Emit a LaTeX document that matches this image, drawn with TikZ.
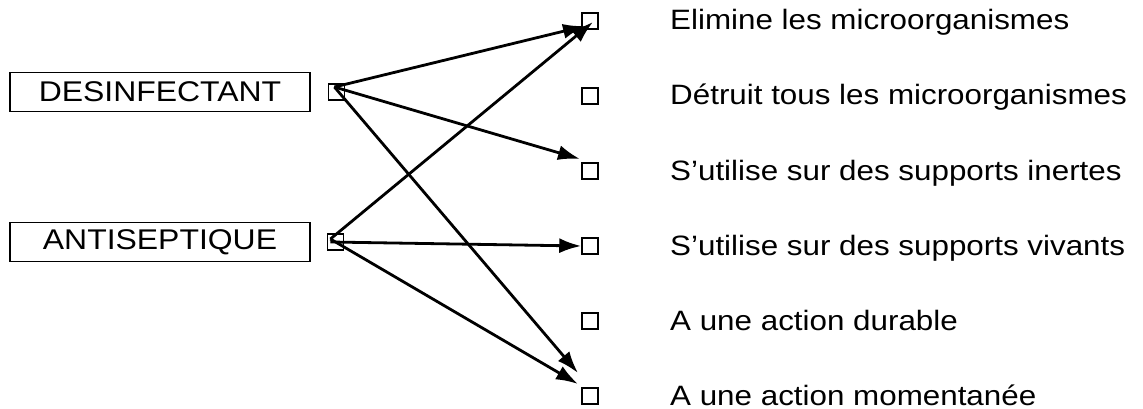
\documentclass[tikz,border=0pt]{standalone}
\usepackage{fontspec}
\setmainfont[FakeStretch=1.12]{Liberation Sans}
\usetikzlibrary{arrows.meta, positioning}
\tikzset{
    % node styles
    term/.style = {draw, line width=1.3pt, minimum width=300pt, minimum height=39pt, inner sep=0pt, font=\fontsize{28.5}{33}\selectfont},
    tick box/.style = {draw, line width=1.5pt, minimum size=16pt, inner sep=0pt},
    item/.style = {anchor=base west, inner sep=0pt, font=\fontsize{28}{33}\selectfont},
    % arrow style
    link/.style = {-{Latex[length=22pt, width=15pt]}, line width=2.8pt}
}
\begin{document}
\begin{tikzpicture}[x=1pt, y=-1pt, node distance=57.5pt]
        \useasboundingbox (0,0) rectangle (1143,409);
        
        % left terms
        \node[term] (desinf) at (160,92) {DESINFECTANT};
        \node[tick box] (dbox) [right=17pt of desinf] {};
        \node[term] (antisep) at (160,242) {ANTISEPTIQUE};
        \node[tick box] (abox) [right=16pt of antisep] {};
        
        % right column
        \node[tick box] (r1) at (590,21) {};
        \node[tick box] (r2) [below=of r1] {};
        \node[tick box] (r3) [below=of r2] {};
        \node[tick box] (r4) [below=of r3] {};
        \node[tick box] (r5) [below=of r4] {};
        \node[tick box] (r6) [below=of r5] {};
        
        \node[item] (t1) at ([xshift=80pt, yshift=-9pt]r1.center) {Elimine les microorganismes};
        \node[item] (t2) at ([xshift=80pt, yshift=-9pt]r2.center) {Détruit tous les microorganismes};
        \node[item] (t3) at ([xshift=80pt, yshift=-9pt]r3.center) {S’utilise sur des supports inertes};
        \node[item] (t4) at ([xshift=80pt, yshift=-9pt]r4.center) {S’utilise sur des supports vivants};
        \node[item] (t5) at ([xshift=80pt, yshift=-9pt]r5.center) {A une action durable};
        \node[item] (t6) at ([xshift=80pt, yshift=-9pt]r6.center) {A une action momentanée};
        
        % links
        \draw[link] ([shift={(-2pt,5pt)}]dbox.center) -- ([shift={(-5pt,-5pt)}]r1.center);
        \draw[link] ([shift={(-2pt,5pt)}]dbox.center) -- ([shift={(-10pt,12pt)}]r3.center);
        \draw[link] ([shift={(-2pt,5pt)}]dbox.center) -- ([shift={(-12pt,23pt)}]r6.center);
        \draw[link] ([shift={(-5pt,3pt)}]abox.center) -- ([shift={(3pt,-1pt)}]r1.center);
        \draw[link] ([xshift=-5pt]abox.center) -- (r4.west);
        \draw[link] ([shift={(-5pt,3pt)}]abox.center) -- ([shift={(-12pt,12pt)}]r6.center);
\end{tikzpicture}
\end{document}
